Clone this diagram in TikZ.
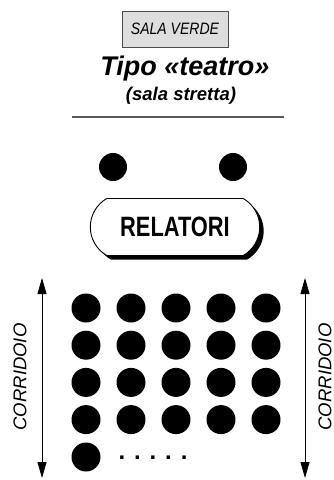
\documentclass[tikz,border=0pt]{standalone}
\usepackage{fontspec}
\setmainfont{Liberation Sans}
\newfontfamily\condfont[FakeStretch=0.78]{Liberation Sans}
\newfontfamily\narrowfont[FakeStretch=0.85]{Liberation Sans}
\usetikzlibrary{arrows.meta, positioning, shapes.misc, shadows}

\begin{document}
\begin{tikzpicture}[x=1pt, y=-1pt,
    seat/.style={circle, fill=black, minimum size=29pt, inner sep=0pt},
    side/.style={rotate=90, font=\fontsize{18.5}{18.5}\selectfont\itshape},
    aisle/.style={{Triangle[length=16pt,width=9pt]}-{Triangle[length=16pt,width=9pt]}, line width=0.8pt}]
  \useasboundingbox (0,0) rectangle (334,480);

  % Header
  \node[draw=black!70, fill=black!13, line width=0.8pt, minimum width=106pt, minimum height=36pt,
        font=\narrowfont\fontsize{16.5}{16.5}\selectfont\itshape] (sala) at (175,29) {SALA VERDE};
  \node[anchor=base, font=\fontsize{27}{27}\selectfont\bfseries\itshape] (tipo) at (185,75) {Tipo «teatro»};
  \node[anchor=base, font=\fontsize{18.5}{18.5}\selectfont\bfseries\itshape] (sub) at (181,100) {(sala stretta)};
  \coordinate (rl) at (72,117);
  \coordinate (rr) at (284,117);
  \draw[black!65, line width=1.5pt] (rl) -- (rr);

  % Speakers
  \node[seat, minimum size=28pt] (s1) at (113,167) {};
  \node[seat, minimum size=28pt] (s2) at (233,167) {};
  \node[draw, fill=white, line width=0.9pt, rounded rectangle, rounded rectangle arc length=120,
        minimum width=176pt, minimum height=57pt,
        general shadow={fill=black, shadow xshift=4pt, shadow yshift=-4pt},
        font=\condfont\fontsize{28}{28}\selectfont\bfseries] (rel) at (175,227) {RELATORI};

  % Seats
  \foreach \c in {0,...,4}
    \foreach \r in {0,...,3}
      \node[seat] (p\c\r) at ({86+45*\c},{308+37.2*\r}) {};
  \node[seat] (p04) at (86,457) {};
  \node[font=\fontsize{24}{24}\selectfont\bfseries] (more) at (153,458) {. . . . .};

  % Corridors
  \coordinate (lt) at (42,278);
  \coordinate (lb) at (42,478);
  \coordinate (rt) at (305,278);
  \coordinate (rb) at (305,478);
  \draw[aisle] (lt) -- (lb);
  \draw[aisle] (rt) -- (rb);
  \node[side] (cl) at (20,377) {CORRIDOIO};
  \node[side] (cr) at (325,377) {CORRIDOIO};
\end{tikzpicture}
\end{document}
